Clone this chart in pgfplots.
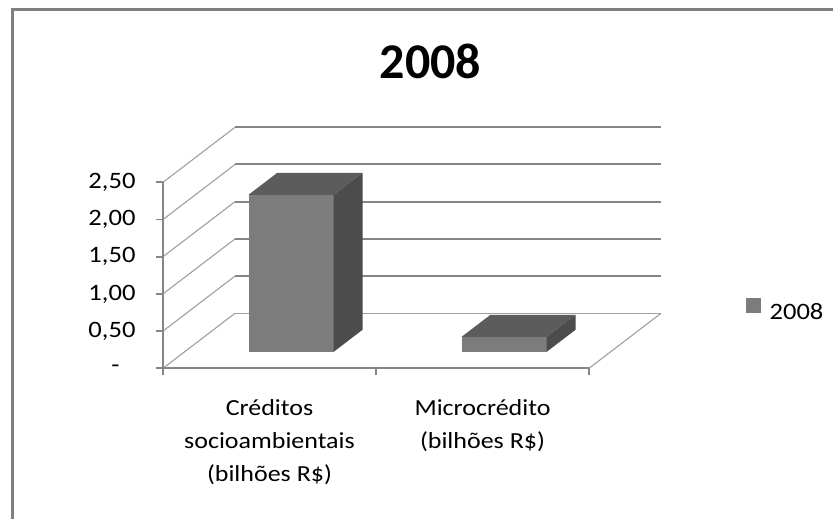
\documentclass[border=0pt]{standalone}
\usepackage{pgfplots}
\pgfplotsset{compat=1.18}
\usepackage{fontspec}
\setmainfont{Carlito}[FakeStretch=1.13]
\newfontfamily\titlefont{Carlito}
\definecolor{axisgray}{HTML}{868686}
\definecolor{gridgray}{HTML}{858585}
\definecolor{wallgray}{HTML}{A0A0A0}
\definecolor{framegray}{HTML}{808080}
\definecolor{barfront}{HTML}{7C7C7C}
\definecolor{bartop}{HTML}{5C5C5C}
\definecolor{barside}{HTML}{4C4C4C}

% one 3-D bar: left edge, right edge, value
\newcommand{\cuboid}[3]{%
  \addplot3[fill=barfront, draw=none] coordinates {(#1,0.3,0) (#2,0.3,0) (#2,0.3,#3) (#1,0.3,#3)};
  \addplot3[fill=bartop, draw=none] coordinates {(#1,0.3,#3) (#2,0.3,#3) (#2,0.7,#3) (#1,0.7,#3)};
  \addplot3[fill=barside, draw=none] coordinates {(#2,0.3,0) (#2,0.7,0) (#2,0.7,#3) (#2,0.3,#3)};
}

\begin{document}
\begin{tikzpicture}
\useasboundingbox (0,0) rectangle (833bp,519bp);
\fill[white] (0,0) rectangle (833bp,519bp);

% ---- 3-D part: walls, gridlines, bars ----
\begin{axis}[
  at={(163bp,150.7bp)}, anchor=origin,
  x={(213bp,0bp)}, y={(72bp,55bp)}, z={(0bp,74.4bp)},
  xmin=0, xmax=2, ymin=0, ymax=1, zmin=0, zmax=2.5,
  hide axis, clip=false,
]
  % left wall diagonals
  \pgfplotsinvokeforeach{0,0.5,1,1.5,2,2.5}{
    \addplot3[draw=wallgray, line width=1.1bp] coordinates {(0,0,#1) (0,1,#1)};
  }
  % floor right edge and back edge
  \addplot3[draw=wallgray, line width=1.1bp] coordinates {(2,0,0) (2,1,0)};
  \addplot3[draw=wallgray, line width=1.4bp] coordinates {(0,1,0) (2,1,0)};
  % back wall gridlines
  \pgfplotsinvokeforeach{0.5,1,1.5,2,2.5}{
    \addplot3[draw=gridgray, line width=2bp] coordinates {(0,1,#1) (2,1,#1)};
  }
  % bars
  \cuboid{0.3}{0.7}{2.11}
  \cuboid{1.3}{1.7}{0.2}
\end{axis}

% ---- 2-D front axis: lines, ticks, labels, legend ----
\begin{axis}[
  at={(163bp,150.7bp)}, anchor=origin,
  x=213bp, y=74.4bp,
  xmin=0, xmax=2, ymin=0, ymax=2.5,
  axis x line*=bottom, axis y line*=left,
  axis line style={draw=axisgray, line width=1.8bp},
  tick align=outside, major tick length=7bp,
  every tick/.style={draw=axisgray, line width=1.8bp},
  xtick={0,1,2}, x tick label as interval,
  xticklabels={{Créditos\\socioambientais\\(bilhões R\$)},{Microcrédito\\(bilhões R\$)}},
  xticklabel style={font=\fontsize{23bp}{33bp}\selectfont, align=center, yshift=-21bp, text=black},
  ytick={0,0.5,1,1.5,2,2.5},
  yticklabels={{-\kern16bp},{0,50},{1,00},{1,50},{2,00},{2,50}},
  yticklabel style={font=\fontsize{23.5bp}{28bp}\selectfont, xshift=-17bp, text=black},
  clip=false,
  legend style={at={(1.3685,0.313)}, anchor=west, draw=none, fill=none, inner sep=0pt,
    font=\fontsize{23.5bp}{28bp}\selectfont, text=black,
    /tikz/every odd column/.append style={column sep=7bp}},
  legend cell align=left,
]
  \addlegendimage{legend image code/.code={\fill[barfront] (0bp,0bp) rectangle (14bp,14bp);}}
  \addlegendentry{2008}
\end{axis}

% title
\node[font=\titlefont\bfseries\fontsize{50bp}{60bp}\selectfont, anchor=base] at (430.5bp,440bp) {2008};

% chart frame (left and top edges visible)
\draw[framegray, line width=3bp] (12.5bp,-3bp) -- (12.5bp,509bp) -- (836bp,509bp);
\end{tikzpicture}
\end{document}
